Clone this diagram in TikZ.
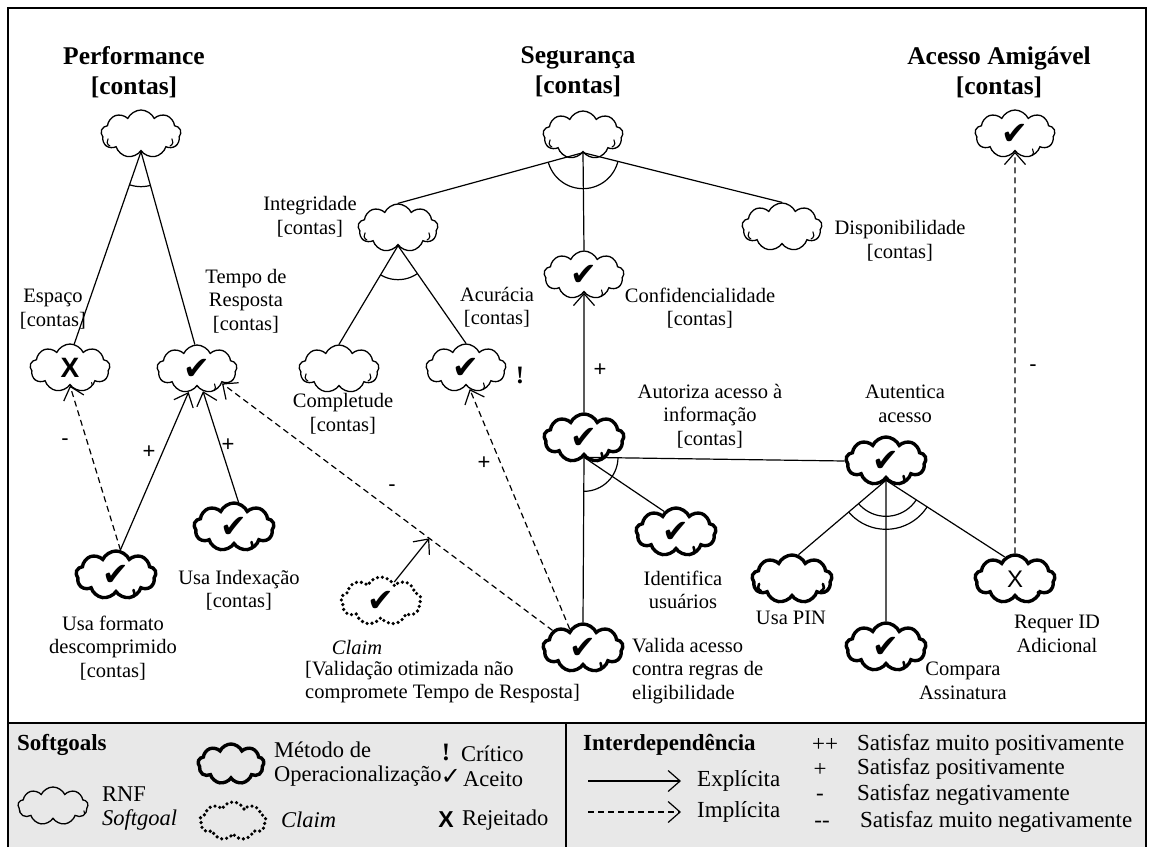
\documentclass[tikz,border=0pt]{standalone}
\usepackage{fontspec}
\setmainfont{Liberation Serif}
\newfontfamily\symfont{DejaVu Sans}
\newfontfamily\sansfont{Liberation Sans}
\usetikzlibrary{shapes.symbols,arrows.meta,calc}

\definecolor{legendbg}{RGB}{232,232,232}

% marks placed inside the softgoal clouds
\newcommand{\okmark}{{\symfont\fontsize{32}{32}\selectfont ✔}}
\newcommand{\nomark}{{\sansfont\bfseries\fontsize{28}{28}\selectfont X}}
\newcommand{\thinx}{{\sansfont\fontsize{24}{24}\selectfont X}}

% arc marking an AND decomposition: apex, first branch end, second branch end, radius
\newcommand{\decarc}[4]{%
  \begin{scope}
    \clip (#1) -- ($(#1)!4!(#2)$) -- ($(#1)!4!(#3)$) -- cycle;
    \draw[link] (#1) circle[radius=#4];
  \end{scope}}

\tikzset{
  cloudhooks/.style 2 args={path picture={
    \draw[line width=#1, solid, line cap=round, shift={(path picture bounding box.center)}, scale=#2]
      (-31,12) arc[start angle=250, end angle=140, radius=4.5pt]
      (29,12) arc[start angle=-70, end angle=40, radius=4.5pt];
  }},
  base cloud/.style={cloud, cloud puffs=9, cloud puff arc=130, cloud ignores aspect,
    minimum width=80pt, minimum height=48pt, inner sep=0pt, draw},
  softgoal/.style={base cloud, line width=1.3pt, cloudhooks={1.1pt}{1}},
  opgoal/.style={base cloud, line width=3.4pt, cloudhooks={2.6pt}{1}},
  claimgoal/.style={base cloud, line width=3.6pt, dash pattern=on 0pt off 5pt, line cap=round},
  link/.style={line width=1.2pt},
  arr/.style={link, -{Straight Barb[length=12pt, width=21pt]}},
  dsh/.style={dash pattern=on 6pt off 4pt},
  title/.style={align=center, inner sep=0pt, font=\bfseries\fontsize{25.5}{30}\selectfont},
  lbl/.style={align=center, inner sep=0pt},
  sgn/.style={inner sep=0pt, font=\sansfont\fontsize{22}{22}\selectfont},
  legtext/.style={inner sep=0pt, anchor=west, align=left, font=\fontsize{22.5}{24}\selectfont},
  legtextr/.style={inner sep=0pt, anchor=west, align=left, font=\fontsize{23}{24}\selectfont},
  leghead/.style={inner sep=0pt, anchor=west, font=\bfseries\fontsize{23}{26}\selectfont},
}

\begin{document}
\begin{tikzpicture}[x=1pt, y=-1pt, font=\fontsize{20.5}{23.5}\selectfont]
\useasboundingbox (0,0) rectangle (1149,847);

% legend band and frame
\fill[legendbg] (8,723) rectangle (1146,847);
\draw[line width=1.5pt] (8,723) -- (1146,723);
\draw[line width=1.5pt] (566,723) -- (566,847);
\draw[line width=2pt] (8,847) -- (8,8) -- (1146,8) -- (1146,847);

% top-level softgoals
\node[title] (tP) at (134,72) {Performance\\{[contas]}};
\node[title] (tS) at (578,72) {Segurança\\{[contas]}};
\node[title] (tA) at (999,72) {Acesso Amigável\\{[contas]}};

\node[softgoal] (P)  at (141,134) {};
\node[softgoal] (S)  at (583,135) {};
\node[softgoal] (AA) at (1015,134) {\okmark};

% refined softgoals
\node[softgoal] (I)  at (398,228) {};
\node[softgoal] (D)  at (782,227) {};
\node[softgoal] (C)  at (584,275) {\okmark};
\node[softgoal] (E)  at (70,368) {\nomark};
\node[softgoal] (T)  at (197,369) {\okmark};
\node[softgoal] (Co) at (339,369) {};
\node[softgoal] (A)  at (466,368) {\okmark};

% operationalizations
\node[opgoal] (Au) at (584,438) {\okmark};
\node[opgoal] (Ae) at (886,461) {\okmark};
\node[opgoal] (Id) at (676,532) {\okmark};
\node[opgoal] (UI) at (234,527) {\okmark};
\node[opgoal] (UF) at (116,575) {\okmark};
\node[opgoal] (UP) at (792,579) {};
\node[opgoal] (R)  at (1015,579) {\thinx};
\node[opgoal] (V)  at (583,648) {\okmark};
\node[opgoal] (CA) at (886,647) {\okmark};
\node[claimgoal] (Cl) at (381,601) {\okmark};

% labels
\node[lbl] (lI)  at (310,217) {Integridade\\{[contas]}};
\node[lbl] (lD)  at (900,241) {Disponibilidade\\{[contas]}};
\node[lbl] (lC)  at (700,308) {Confidencialidade\\{[contas]}};
\node[lbl] (lA)  at (497,307) {Acurácia\\{[contas]}};
\node[lbl] (lE)  at (53,309) {Espaço\\{[contas]}};
\node[lbl] (lT)  at (246,301) {Tempo de\\Resposta\\{[contas]}};
\node[lbl] (lCo) at (343,414) {Completude\\{[contas]}};
\node[lbl] (lAu) at (710,416) {Autoriza acesso à\\informação\\{[contas]}};
\node[lbl] (lAe) at (905,404) {Autentica\\acesso};
\node[lbl] (lId) at (683,590) {Identifica\\usuários};
\node[lbl] (lUI) at (239,590) {Usa Indexação\\{[contas]}};
\node[lbl] (lUF) at (113,648) {Usa formato\\descomprimido\\{[contas]}};
\node[lbl] (lCl) at (357,647) {\textit{Claim}};
\node[lbl, anchor=west, align=left] (lClt) at (305,682) {[Validação otimizada não\\compromete Tempo de Resposta]};
\node[lbl, anchor=west, align=left] (lV) at (632,671) {Valida acesso\\contra regras de\\eligibilidade};
\node[lbl] (lUP) at (791,618) {Usa PIN};
\node[lbl] (lCA) at (963,681) {Compara\\Assinatura};
\node[lbl] (lR)  at (1057,634) {Requer ID\\Adicional};
\node[inner sep=0pt, font=\bfseries\fontsize{25}{25}\selectfont] (crit) at (520,375) {!};

% decompositions
\draw[link] (P.south) -- (E.80);
\draw[link] (P.south) -- (T.95);
\decarc{P.south}{E.80}{T.95}{35pt}

\draw[link] (S.south) -- (I.north);
\draw[link] (S.south) -- (D.north);
\draw[link] (S.south) -- (C.north);
\decarc{S.south}{I.north}{D.north}{36pt}

\draw[link] (I.south) -- (Co.north);
\draw[link] (I.south) -- (A.north);
\decarc{I.south}{Co.north}{A.north}{34pt}

\draw[link] (Au.south) -- (Ae.west);
\draw[link] (Au.south) -- (Id.120);
\draw[link] (Au.south) -- (V.north);
\decarc{Au.south}{Ae.west}{V.north}{34pt}

\draw[link] (Ae.south) -- (UP.75);
\draw[link] (Ae.south) -- (CA.north);
\draw[link] (Ae.south) -- (R.115);
\decarc{Ae.south}{UP.75}{R.115}{36pt}
\decarc{Ae.south}{UP.75}{R.115}{49pt}

% contributions
\draw[arr, dsh] (UF.80) -- (E.south);
\draw[arr] (UF.80) -- (T.250);
\draw[arr] (UI.80) -- (T.285);
\draw[arr, dsh] (V.150) -- coordinate[pos=0.373] (mid) (T.330);
\draw[arr] (Cl.55) -- (mid);
\draw[arr, dsh] (V.125) -- (A.280);
\draw[arr] (Au.north) -- (C.south);
\draw[arr, dsh] (R.north) -- (AA.south);

% contribution signs
\node[sgn] (sgUFE) at (65,442) {-};
\node[sgn] (sgUFT) at (149,452) {+};
\node[sgn] (sgUIT) at (228,445) {+};
\node[sgn] (sgVT)  at (392,488) {-};
\node[sgn] (sgVA)  at (484,463) {+};
\node[sgn] (sgAuC) at (600,370) {+};
\node[sgn] (sgRAA) at (1033,368) {-};

% legend: softgoal kinds
\node[leghead] (lsg) at (17,745) {Softgoals};
\node[softgoal, minimum width=70pt, minimum height=38pt, cloudhooks={1.1pt}{0.85}] (lgRNF) at (53,806) {};
\node[legtext] (lgRNFt) at (102,809) {RNF\\\textit{Softgoal}};
\node[opgoal, minimum width=66pt, minimum height=40pt, cloudhooks={2.6pt}{0.8}] (lgOp) at (231,764) {};
\node[legtext] (lgOpt) at (274,764) {Método de\\Operacionalização};
\node[claimgoal, minimum width=66pt, minimum height=38pt] (lgCl) at (233,821) {};
\node[legtext] (lgClt) at (281,820) {\textit{Claim}};
\node[inner sep=0pt, font=\bfseries\fontsize{25}{25}\selectfont] (lgx1) at (446,752) {!};
\node[legtext] (lgx1t) at (461,754) {Crítico};
\node[inner sep=0pt, font=\symfont\fontsize{24}{24}\selectfont] (lgx2) at (451,777) {✓};
\node[legtext] (lgx2t) at (463,779) {Aceito};
\node[inner sep=0pt, font=\sansfont\bfseries\fontsize{23}{23}\selectfont] (lgx3) at (446,820) {X};
\node[legtext] (lgx3t) at (462,820) {Rejeitado};

% legend: interdependencies
\node[leghead] (lint) at (583,745) {Interdependência};
\coordinate (ex1) at (588,781);
\coordinate (ex2) at (681,781);
\draw[arr] (ex1) -- (ex2);
\node[legtextr] (lext) at (697,781) {Explícita};
\coordinate (im1) at (588,812);
\coordinate (im2) at (681,812);
\draw[arr, dsh] (im1) -- (im2);
\node[legtextr] (limp) at (697,812) {Implícita};

\node[inner sep=0pt, font=\fontsize{23}{24}\selectfont] (s1) at (825,745) {++};
\node[legtextr] (s1t) at (857,745) {Satisfaz muito positivamente};
\node[inner sep=0pt, font=\fontsize{23}{24}\selectfont] (s2) at (820,770) {+};
\node[legtextr] (s2t) at (857,769) {Satisfaz positivamente};
\node[inner sep=0pt, font=\fontsize{23}{24}\selectfont] (s3) at (820,797) {-};
\node[legtextr] (s3t) at (857,795) {Satisfaz negativamente};
\node[inner sep=0pt, font=\fontsize{23}{24}\selectfont] (s4) at (822,824) {{-}{-}};
\node[legtextr] (s4t) at (860,822) {Satisfaz muito negativamente};
\end{tikzpicture}
\end{document}
